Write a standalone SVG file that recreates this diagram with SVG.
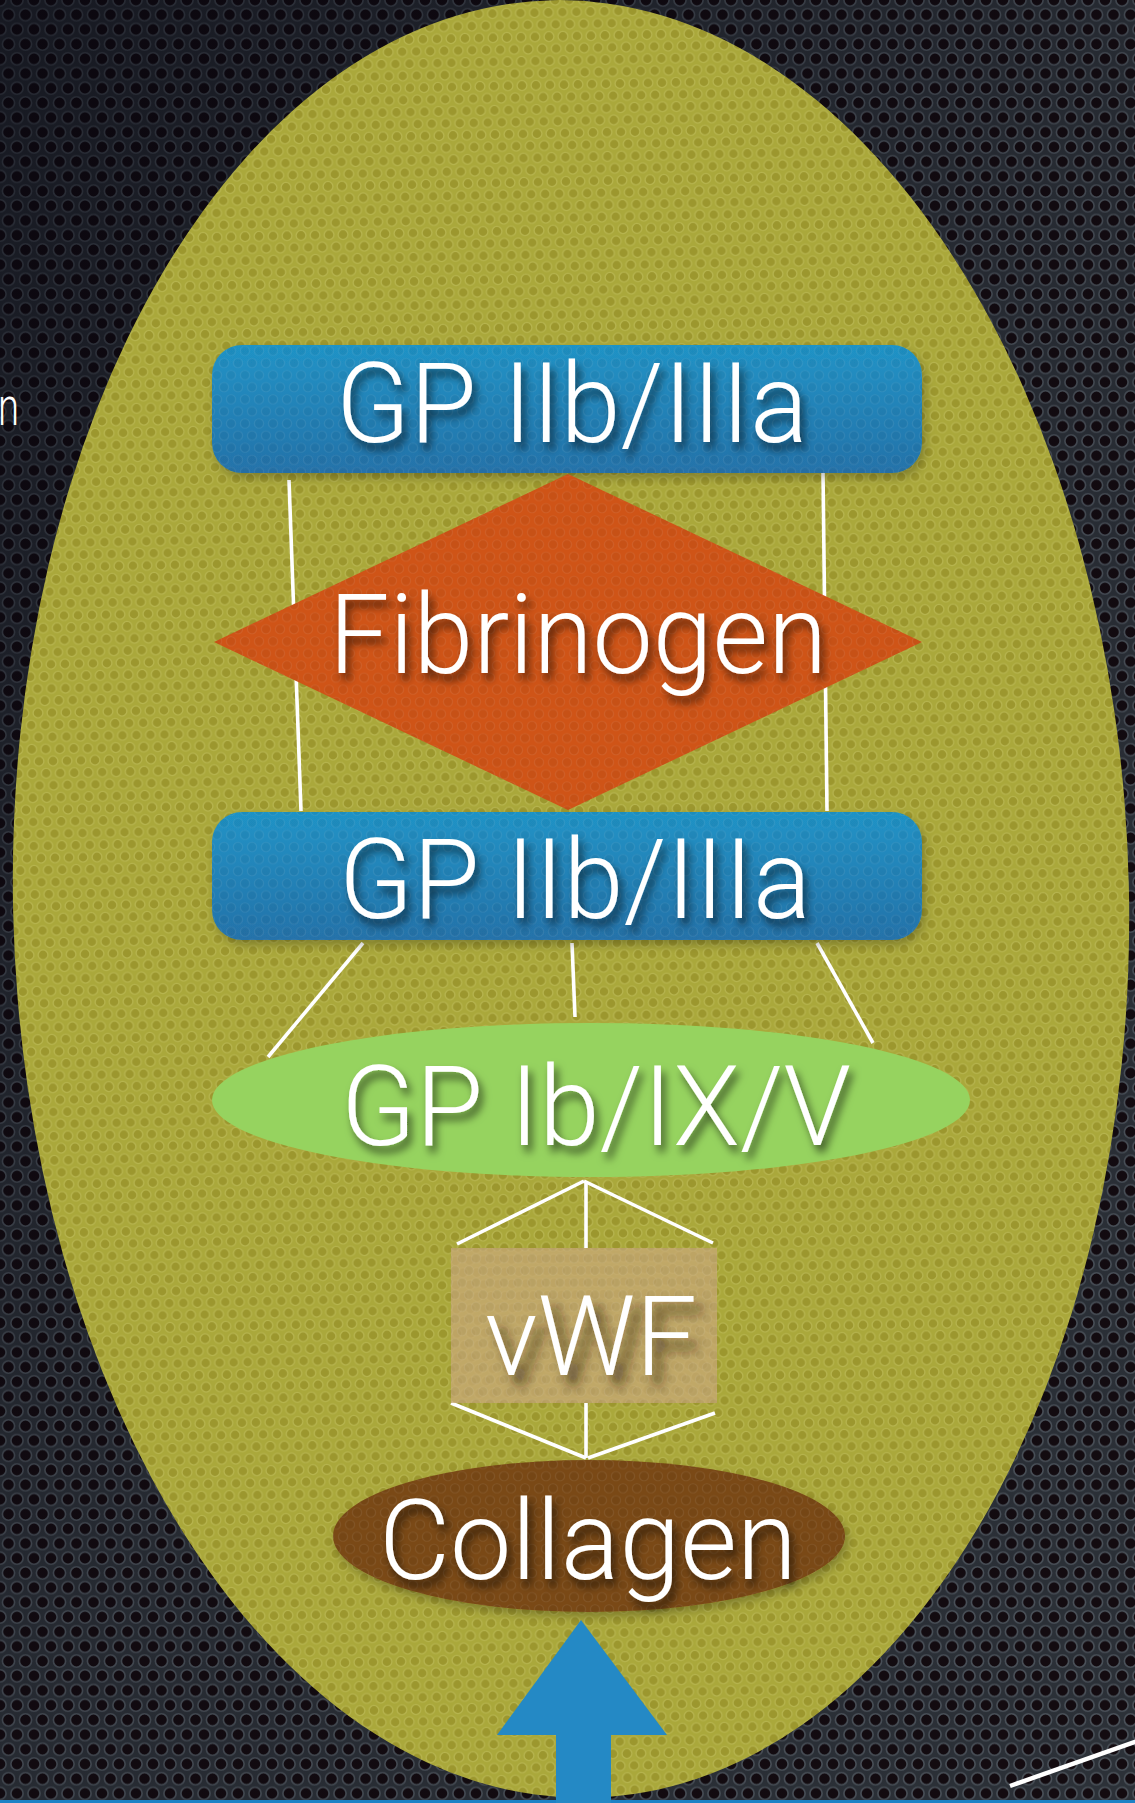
<svg xmlns="http://www.w3.org/2000/svg" width="1135" height="1803" viewBox="0 0 1135 1803">
  <defs>
    <pattern id="metal" width="17" height="29.4" patternUnits="userSpaceOnUse">
      <rect width="17" height="29.4" fill="#2c3138"/>
      <g fill="#130b10" stroke="#4b525a" stroke-width="1.6">
        <circle cx="0" cy="0" r="6.1"/>
        <circle cx="17" cy="0" r="6.1"/>
        <circle cx="8.5" cy="14.7" r="6.1"/>
        <circle cx="0" cy="29.4" r="6.1"/>
        <circle cx="17" cy="29.4" r="6.1"/>
      </g>
    </pattern>
    <pattern id="olive" width="14" height="24.2" patternUnits="userSpaceOnUse">
      <rect width="14" height="24.2" fill="#aaa83b"/>
      <g fill="#9c972e" stroke="#b6b44e" stroke-width="1.3">
        <circle cx="0" cy="0" r="4.9"/>
        <circle cx="14" cy="0" r="4.9"/>
        <circle cx="7" cy="12.1" r="4.9"/>
        <circle cx="0" cy="24.2" r="4.9"/>
        <circle cx="14" cy="24.2" r="4.9"/>
      </g>
    </pattern>
    <pattern id="dots" width="14" height="24.2" patternUnits="userSpaceOnUse">
      <g fill="#000" fill-opacity="0.04" stroke="#fff" stroke-opacity="0.07" stroke-width="1.2">
        <circle cx="0" cy="0" r="4.6"/>
        <circle cx="14" cy="0" r="4.6"/>
        <circle cx="7" cy="12.1" r="4.6"/>
        <circle cx="0" cy="24.2" r="4.6"/>
        <circle cx="14" cy="24.2" r="4.6"/>
      </g>
    </pattern>
    <linearGradient id="blueGrad" x1="0" y1="0" x2="0" y2="1">
      <stop offset="0" stop-color="#1f93c6"/>
      <stop offset="1" stop-color="#2572a9"/>
    </linearGradient>
    <linearGradient id="shade" x1="0" y1="0" x2="1" y2="1">
      <stop offset="0" stop-color="#05050f" stop-opacity="0.55"/>
      <stop offset="0.5" stop-color="#05050f" stop-opacity="0.15"/>
      <stop offset="1" stop-color="#05050f" stop-opacity="0"/>
    </linearGradient>
    <filter id="txtShadow" x="-10%" y="-20%" width="130%" height="160%">
      <feDropShadow dx="4" dy="7" stdDeviation="4" flood-color="#000" flood-opacity="0.6"/>
    </filter>
    <filter id="txtShadowSoft" x="-20%" y="-30%" width="150%" height="180%">
      <feDropShadow dx="9" dy="11" stdDeviation="6" flood-color="#2a1a08" flood-opacity="0.7"/>
    </filter>
    <filter id="shapeShadow" x="-10%" y="-10%" width="130%" height="140%">
      <feDropShadow dx="3" dy="5" stdDeviation="5" flood-color="#000" flood-opacity="0.25"/>
    </filter>
    <style>
      .lbl { font-family: "Roboto", "Liberation Sans", Arial, sans-serif; font-weight: 300; font-size: 112px; fill: #ffffff; text-anchor: middle; filter: url(#txtShadow); }
      .conn { stroke: #ffffff; stroke-width: 3.6; fill: none; stroke-linecap: butt; }
      .ov { fill: url(#dots); }
    </style>
  </defs>

  <!-- background -->
  <rect x="0" y="0" width="1135" height="1803" fill="url(#metal)"/>
  <rect x="0" y="0" width="1135" height="1803" fill="url(#shade)"/>
  <text x="-2" y="425" font-family="Roboto, Liberation Sans, Arial, sans-serif" font-weight="300" font-size="54" fill="#ffffff" textLength="21" lengthAdjust="spacingAndGlyphs">n</text>
  <line x1="1010" y1="1786" x2="1140" y2="1740" stroke="#ffffff" stroke-width="4.5"/>
  <rect x="0" y="1800" width="1135" height="3" fill="#1c82c6"/>

  <!-- big olive ellipse -->
  <g id="platelet">
    <ellipse cx="571" cy="899" rx="558" ry="899" transform="rotate(-1.2 571 899)" fill="url(#olive)"/>
  </g>

  <!-- connectors -->
  <g id="connectors" class="conn">
    <line x1="289" y1="480" x2="301" y2="811"/>
    <line x1="823" y1="472" x2="827" y2="811"/>
    <line x1="363" y1="943" x2="268" y2="1057"/>
    <line x1="572" y1="943" x2="575" y2="1017"/>
    <line x1="817" y1="943" x2="873" y2="1043"/>
    <line x1="584" y1="1181" x2="457" y2="1244"/>
    <line x1="584" y1="1181" x2="713" y2="1243"/>
    <line x1="586" y1="1181" x2="586" y2="1248"/>
    <line x1="451" y1="1403" x2="586" y2="1458"/>
    <line x1="586" y1="1403" x2="586" y2="1458"/>
    <line x1="715" y1="1413" x2="588" y2="1458"/>
  </g>

  <g id="gp2b3a-top">
    <rect x="212" y="345" width="710" height="128" rx="30" fill="url(#blueGrad)" filter="url(#shapeShadow)"/>
    <rect x="212" y="345" width="710" height="128" rx="30" class="ov"/>
    <text class="lbl" x="572" y="442" textLength="472" lengthAdjust="spacingAndGlyphs">GP IIb/IIIa</text>
  </g>

  <g id="fibrinogen">
    <polygon points="214,642 568,474 922,642 568,810" fill="#cf5417"/>
    <polygon points="214,642 568,474 922,642 568,810" class="ov"/>
    <text class="lbl" x="578" y="673" textLength="498" lengthAdjust="spacingAndGlyphs">Fibrinogen</text>
  </g>

  <g id="gp2b3a-bottom">
    <rect x="212" y="812" width="710" height="128" rx="30" fill="url(#blueGrad)" filter="url(#shapeShadow)"/>
    <rect x="212" y="812" width="710" height="128" rx="30" class="ov"/>
    <text class="lbl" x="575" y="918" textLength="472" lengthAdjust="spacingAndGlyphs">GP IIb/IIIa</text>
  </g>

  <g id="gp1b9-5">
    <ellipse cx="591" cy="1100" rx="379" ry="77" fill="#96d35f"/>
    <text class="lbl" x="596" y="1145" textLength="510" lengthAdjust="spacingAndGlyphs">GP Ib/IX/V</text>
  </g>

  <g id="vwf">
    <rect x="451" y="1248" width="266" height="155" fill="#c6a873" fill-opacity="0.78"/>
    <rect x="451" y="1248" width="266" height="155" class="ov"/>
    <text class="lbl" x="591" y="1375" textLength="212" lengthAdjust="spacingAndGlyphs" style="filter:url(#txtShadowSoft)">vWF</text>
  </g>

  <g id="collagen">
    <ellipse cx="589" cy="1536" rx="256" ry="76" fill="#7a4a16" filter="url(#shapeShadow)"/>
    <ellipse cx="589" cy="1536" rx="256" ry="76" class="ov"/>
    <text class="lbl" x="588" y="1579" textLength="418" lengthAdjust="spacingAndGlyphs">Collagen</text>
  </g>

  <g id="arrow">
    <polygon points="581,1620 667,1735 611,1735 611,1803 556,1803 556,1735 497,1735" fill="#2489c5"/>
  </g>
</svg>
